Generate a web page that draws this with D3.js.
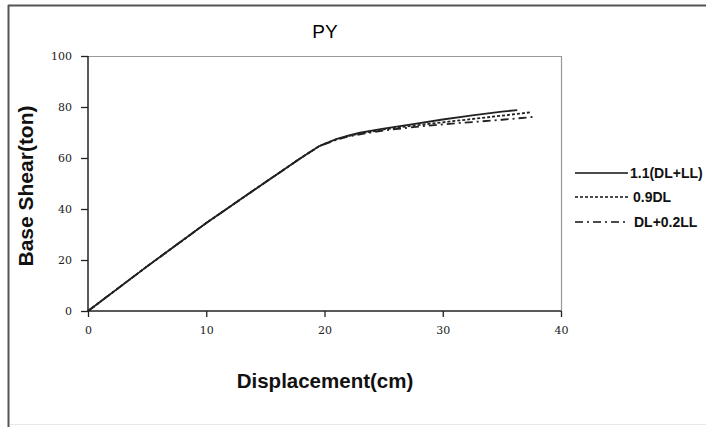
<!DOCTYPE html>
<html><head><meta charset="utf-8">
<script src="https://cdn.jsdelivr.net/npm/d3@7"></script>
<style>body{margin:0;background:#fff}svg{display:block}</style>
</head><body>
<svg id="c" width="706" height="427"></svg>
<script>
const seriesNames = ["1.1(DL+LL)", "0.9DL", "DL+0.2LL"];
const dispA = [0, 5, 10, 15, 18, 19.5, 20, 21, 22, 23, 25, 27.5, 30, 32.5, 35, 36.3];
const shearA = [0, 17.5, 34.5, 50.5, 60, 64.5, 65.6, 67.4, 68.8, 69.9, 71.5, 73.3, 75.1, 76.7, 78.2, 78.8];
const dispB = [0, 5, 10, 15, 18, 19.5, 20, 21, 22, 23, 25, 27.5, 30, 32.5, 35, 37.4];
const shearB = [0, 17.5, 34.5, 50.5, 60, 64.5, 65.5, 67.3, 68.6, 69.6, 71.2, 72.7, 74.0, 75.3, 76.6, 77.9];
const dispC = [0, 5, 10, 15, 18, 19.5, 20, 21, 22, 23, 25, 27.5, 30, 32.5, 35, 37.9];
const shearC = [0, 17.5, 34.5, 50.5, 60, 64.5, 65.4, 67.1, 68.4, 69.3, 70.8, 72.1, 73.2, 74.1, 75.0, 76.2];
const xTicks = [0, 10, 20, 30, 40];
const yTicks = [0, 20, 40, 60, 80, 100];
const dashes = [null, "3,2", "8,4,2,4"];

const svg = d3.select("#c");
// outer frame
svg.append("line").attr("x1",8.5).attr("x2",8.5).attr("y1",5).attr("y2",427).attr("stroke","#555").attr("stroke-width",2);
svg.append("line").attr("x1",8).attr("x2",706).attr("y1",5.5).attr("y2",5.5).attr("stroke","#555").attr("stroke-width",2);
svg.append("line").attr("x1",10).attr("x2",706).attr("y1",424.5).attr("y2",424.5).attr("stroke","#e8e8e8").attr("stroke-width",1);

const x = d3.scaleLinear().domain([0,40]).range([88,561]);
const y = d3.scaleLinear().domain([0,100]).range([311,56]);

// plot border top/right
svg.append("path").attr("d",`M${x(0)},${y(100)+0.5}H${x(40)+0.5}V${y(0)}`).attr("fill","none").attr("stroke","#999").attr("stroke-width",1.2);

const gx = svg.append("g").attr("transform",`translate(0,${y(0)})`)
  .call(d3.axisBottom(x).tickValues(xTicks).tickSize(6).tickPadding(9));
const gy = svg.append("g").attr("transform",`translate(${x(0)},0)`)
  .call(d3.axisLeft(y).tickValues(yTicks).tickSize(7).tickPadding(9));
[gx,gy].forEach(g=>{
  g.select(".domain").attr("stroke","#222").attr("stroke-width",1.5);
  g.selectAll(".tick line").attr("stroke","#222").attr("stroke-width",1.3);
  g.selectAll("text").attr("font-family","'DejaVu Serif', serif").attr("font-size",11).attr("fill","#222");
});
gy.select(".domain").attr("d",`M0,${y(0)}V${y(100)}`);
gx.select(".domain").attr("d",`M${x(0)},0H${x(40)}`);

const line = d3.line().x(d=>x(d[0])).y(d=>y(d[1]));
const data = [d3.zip(dispA,shearA), d3.zip(dispB,shearB), d3.zip(dispC,shearC)];
data.forEach((pts,i)=>{
  svg.append("path").datum(pts).attr("d",line).attr("fill","none")
    .attr("stroke","#222").attr("stroke-width",1.8)
    .attr("stroke-dasharray",dashes[i]);
});

// titles
svg.append("text").attr("x",325).attr("y",38).attr("text-anchor","middle")
  .attr("font-family","Arial, 'Liberation Sans', sans-serif").attr("font-size",19).text("PY");
svg.append("text").attr("x",325).attr("y",388).attr("text-anchor","middle")
  .attr("font-family","Arial, 'Liberation Sans', sans-serif").attr("font-size",20.5).attr("font-weight","bold").attr("fill","#111").text("Displacement(cm)");
svg.append("text").attr("transform","translate(33,186) rotate(-90)").attr("text-anchor","middle")
  .attr("font-family","Arial, 'Liberation Sans', sans-serif").attr("font-size",21).attr("font-weight","bold").attr("fill","#111").text("Base Shear(ton)");

// legend
const ly = [173, 197, 222];
const lx = [630, 633, 634];
seriesNames.forEach((n,i)=>{
  svg.append("line").attr("x1",575).attr("x2",628).attr("y1",ly[i]).attr("y2",ly[i])
    .attr("stroke","#111").attr("stroke-width",1.5).attr("stroke-dasharray",dashes[i]);
  svg.append("text").attr("x",lx[i]).attr("y",ly[i]+5)
    .attr("font-family","Arial, 'Liberation Sans', sans-serif").attr("font-size",14).attr("font-weight","bold").attr("fill","#111").text(n);
});
</script>
</body></html>
